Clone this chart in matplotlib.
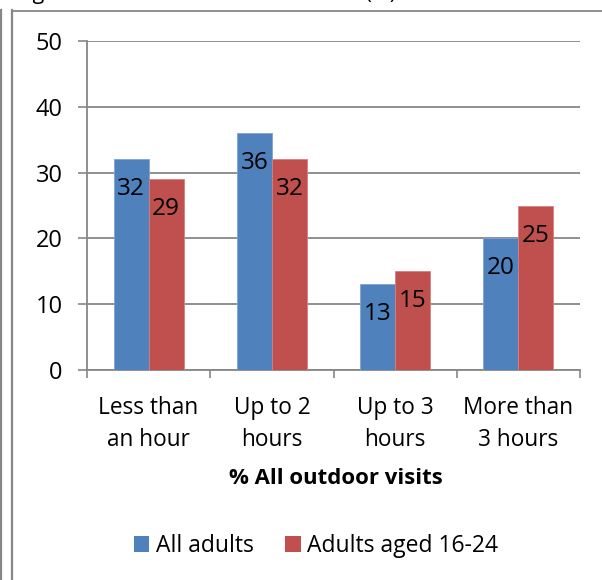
import matplotlib
matplotlib.use("Agg")
import matplotlib.pyplot as plt
from matplotlib.patches import Patch
from matplotlib.lines import Line2D

plt.rcParams['font.family'] = ['Open Sans', 'DejaVu Sans']

categories = ["Less than\nan hour", "Up to 2\nhours", "Up to 3\nhours", "More than\n3 hours"]
all_adults = [32, 36, 13, 20]
adults_16_24 = [29, 32, 15, 25]
series_names = ["All adults", "Adults aged 16-24"]
y_ticks = [0, 10, 20, 30, 40, 50]
axis_title = "% All outdoor visits"
figure_title = "Figure 4 Duration of outdoor visits (%)"

BLUE = "#4F81BD"
RED = "#C0504D"
GREY = "#878787"
FS = 16.3

W, H = 602, 580
fig = plt.figure(figsize=(W / 100, H / 100), dpi=100)

# outer frame lines of the surrounding box
fig.add_artist(Line2D([11.5 / W, 11.5 / W], [0, 1 - 10 / H], color=GREY, lw=1.6))
fig.add_artist(Line2D([11.5 / W, 1], [1 - 10.5 / H, 1 - 10.5 / H], color=GREY, lw=1.3))
fig.add_artist(Line2D([0.8 / W, 0.8 / W], [0, 1 - 10 / H], color=GREY, lw=1.6))

# caption, mostly above the visible area
fig.text(16 / W, 1 + 1.5 / H, figure_title, ha='left', va='baseline', fontsize=15.5)

ax = fig.add_axes([87 / W, 1 - 370 / H, (580 - 87) / W, (370 - 41) / H])
n = len(categories)
bw = 0.284
xs = [i + 0.5 for i in range(n)]

b1 = ax.bar([x - bw / 2 for x in xs], all_adults, width=bw, color=BLUE,
            edgecolor="#7FA3D0", linewidth=0.6, zorder=3)
b2 = ax.bar([x + bw / 2 for x in xs], adults_16_24, width=bw, color=RED,
            edgecolor="#D4807E", linewidth=0.6, zorder=3)

for bars, vals in ((b1, all_adults), (b2, adults_16_24)):
    for rect, v in zip(bars, vals):
        ax.annotate(str(v), xy=(rect.get_x() + rect.get_width() / 2, v),
                    xytext=(0, -30), textcoords='offset pixels',
                    ha='center', va='center', fontsize=17.5, zorder=4)

ax.set_ylim(0, 50)
ax.set_xlim(0, n)
ax.set_yticks(y_ticks)
ax.set_yticklabels([str(t) for t in y_ticks], fontsize=17)
ax.yaxis.grid(True, color=GREY, lw=1.3, zorder=0)
ax.tick_params(axis='y', length=6.5, width=1.2, color=GREY, pad=11)

ax.set_xticks(range(n + 1))
ax.set_xticklabels([])
ax.set_xticks(xs, minor=True)
ax.set_xticklabels(categories, minor=True, fontsize=FS, linespacing=1.43)
ax.tick_params(axis='x', which='major', length=6, width=1.2, color=GREY)
ax.tick_params(axis='x', which='minor', length=0, pad=19)

for s in ('top', 'right'):
    ax.spines[s].set_visible(False)
for s in ('left', 'bottom'):
    ax.spines[s].set_color(GREY)
    ax.spines[s].set_linewidth(1.3)

fig.text(336 / W, 1 - 479 / H, axis_title, ha='center', va='center',
         fontsize=15.9, fontweight='bold')

handles = [Patch(facecolor=BLUE), Patch(facecolor=RED)]
fig.legend(handles, series_names, loc='center', bbox_to_anchor=(316 / W, 1 - 546 / H),
           ncol=2, frameon=False, fontsize=16.5, handlelength=0.66, handleheight=0.66,
           handletextpad=0.3, columnspacing=1.4)

fig.savefig("out.png", dpi=100)
